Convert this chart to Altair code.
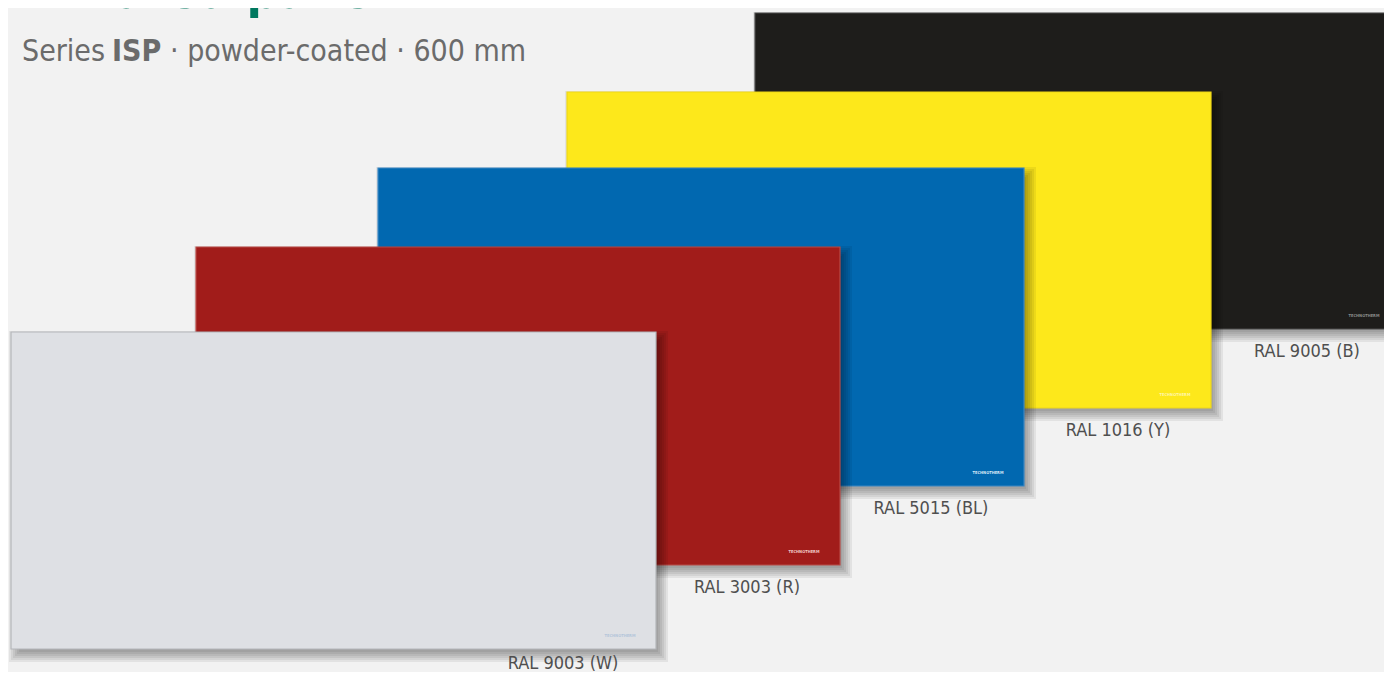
import altair as alt
import pandas as pd

W, H = 1376, 664   # drawing area (window minus the 8px page margin)
OFF = 8

# ---- data (page pixel units) ----
names = ["RAL 9005 (B)", "RAL 1016 (Y)", "RAL 5015 (BL)", "RAL 3003 (R)", "RAL 9003 (W)"]
left = [755, 567, 378, 196, 11]
top = [13, 92, 168, 247, 332]
right = [1400, 1211, 1024, 840, 656]
bottom = [329, 408, 486, 565, 649]
fills = ["#1e1d1b", "#fde81b", "#0168b0", "#a11c1a", "#dee0e4"]
edges = ["#4a4a4a", "#efd718", "#3a86c2", "#b84a46", "#b4b6ba"]
logo_colors = ["#8a8a8a", "#fff6a8", "#d6e6f6", "#f0c8c8", "#b4c6da"]
logo_text = "TECHNOTHERM"

title = "Infrared panel"
sub_a = "Series"
sub_b = "ISP"
sub_c = "· powder-coated · 600 mm"

GREEN = "#00785f"
GREY = "#6b6b6b"
LABEL = "#4f4f4f"
BG = "#f2f2f2"
COND = "DejaVu Sans Condensed, DejaVu Sans, sans-serif"

# soft drop shadow: offset rectangles with growing spread
DX, DY = 5, 6
rings = [-3, -1, 1, 3, 5, 7]

rows = []
for i, n in enumerate(names):
    for k, g in enumerate(rings):
        rows.append(dict(name=n, x=left[i] + DX - g, x2=right[i] + DX + g,
                         y=top[i] + DY - g, y2=bottom[i] + DY + g,
                         fill="#000000", stroke="transparent", op=0.06, z=i * 20 + k))
    rows.append(dict(name=n, x=left[i], x2=right[i], y=top[i], y2=bottom[i],
                     fill=fills[i], stroke=edges[i], op=1.0, z=i * 20 + 19))
rect_df = pd.DataFrame(rows)

panel_df = pd.DataFrame(dict(name=names, right=right, bottom=bottom, logo=logo_colors))

xs = alt.Scale(domain=[OFF, OFF + W], nice=False, zero=False)
ys = alt.Scale(domain=[OFF, OFF + H], nice=False, zero=False, reverse=True)

rects = alt.Chart(rect_df).mark_rect(strokeWidth=1.2).encode(
    x=alt.X("x:Q", scale=xs, axis=None),
    x2="x2:Q",
    y=alt.Y("y:Q", scale=ys, axis=None),
    y2="y2:Q",
    fill=alt.Fill("fill:N", scale=None),
    stroke=alt.Stroke("stroke:N", scale=None),
    opacity=alt.Opacity("op:Q", scale=None),
    order=alt.Order("z:Q"),
)

labels = alt.Chart(panel_df).transform_calculate(
    lx="datum.right - 93", ly="min(datum.bottom + 28, 669)"
).mark_text(font=COND, fontSize=18, color=LABEL,
            align="center", baseline="alphabetic").encode(
    x=alt.X("lx:Q", scale=xs, axis=None),
    y=alt.Y("ly:Q", scale=ys, axis=None),
    text="name:N",
)

logos = alt.Chart(panel_df).transform_calculate(
    lx="datum.right - 36", ly="datum.bottom - 13", t=f"'{logo_text}'"
).mark_text(font=COND, fontSize=4, fontWeight="bold",
            align="center", baseline="middle").encode(
    x=alt.X("lx:Q", scale=xs, axis=None),
    y=alt.Y("ly:Q", scale=ys, axis=None),
    text="t:N",
    color=alt.Color("logo:N", scale=None),
)

tdf = pd.DataFrame({"t": [title]})
title_mark = alt.Chart(tdf).mark_text(
    font=COND, fontSize=50, fontWeight="bold", color=GREEN,
    align="left", baseline="alphabetic"
).encode(x=alt.value(17), y=alt.value(0), text="t:N")

def sub(text, xpx, weight):
    return alt.Chart(pd.DataFrame({"t": [text]})).mark_text(
        font=COND, fontSize=30, fontWeight=weight, color=GREY,
        align="left", baseline="alphabetic"
    ).encode(x=alt.value(xpx), y=alt.value(53), text="t:N")

chart = alt.layer(
    rects, logos, labels, title_mark,
    sub(sub_a, 14, "normal"), sub(sub_b, 104, "bold"), sub(sub_c, 162, "normal"),
).properties(
    width=W, height=H, background=BG, padding=0,
    autosize=alt.AutoSizeParams(type="none"),
).configure_view(stroke=None)

chart.save("out.html", embed_options={"renderer": "svg", "actions": False})
